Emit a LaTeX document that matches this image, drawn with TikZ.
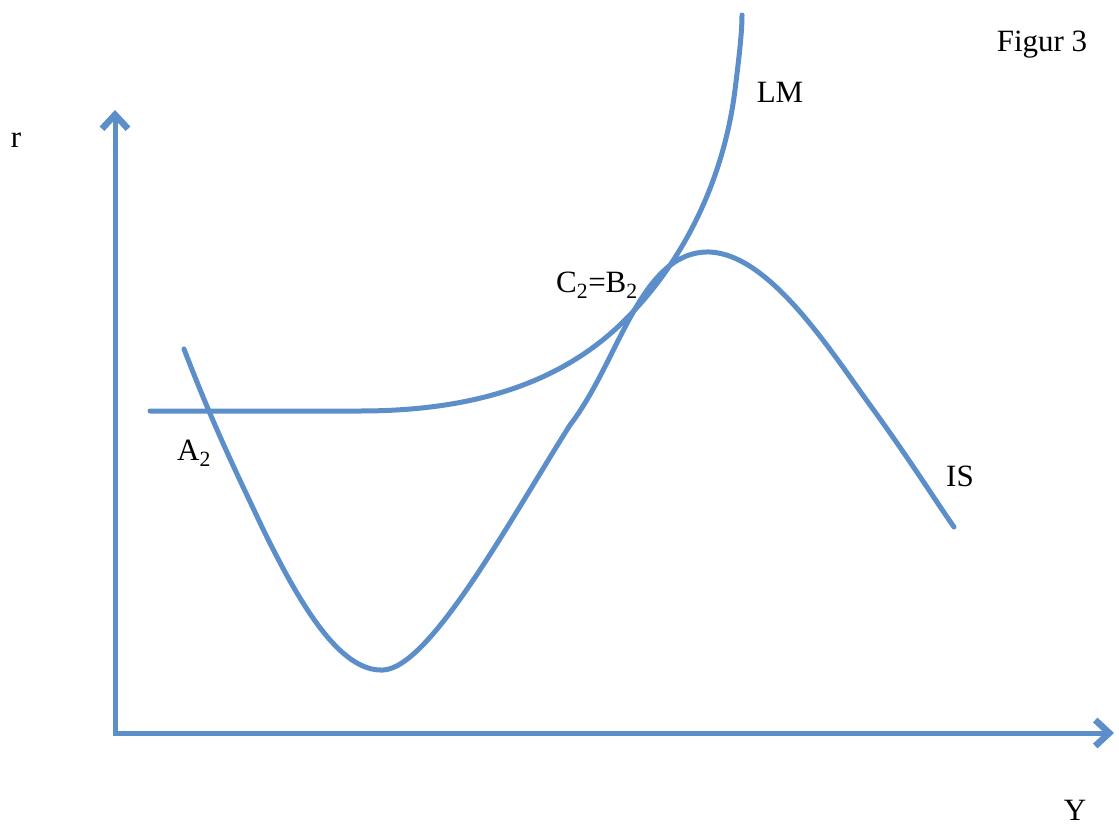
\documentclass[tikz,border=0pt]{standalone}
\usepackage{fontspec}
\setmainfont{Liberation Serif}
\usetikzlibrary{arrows.meta}
\definecolor{curveblue}{RGB}{92,142,202}
\tikzset{
  curve/.style={draw=curveblue, line width=5pt, line cap=round, line join=round},
  axis/.style={curve, line cap=butt, -{Straight Barb[length=14pt,width=26pt,line width=6.5pt]}},
  lbl/.style={font=\fontsize{31}{35}\selectfont, inner sep=0pt}
}
\begin{document}
\begin{tikzpicture}[x=1pt,y=-1pt]
\useasboundingbox (0,0) rectangle (1119,835);
\coordinate (ybot) at (115,736);
\coordinate (ytop) at (115,110);
\coordinate (xbeg) at (113,733);
\coordinate (xend) at (1114,733);
\draw[axis] (ybot) -- (ytop);
\draw[axis] (xbeg) -- (xend);
% LM curve
\draw[curve] (150,411) -- (360,411)
  .. controls (470,411) and (560,385) .. (625,320)
  .. controls (690,255) and (725,170) .. (735,90)
  .. controls (740,50) and (742,30) .. (742,15);
% IS curve
\draw[curve] (184,349)
  .. controls (215,430) and (240,480) .. (262,527)
  .. controls (300,605) and (340,672) .. (383,670)
  .. controls (430,668) and (510,520) .. (570,425)
  .. controls (620,360) and (640,250) .. (710,252)
  .. controls (770,255) and (830,350) .. (870,405)
  .. controls (910,460) and (935,500) .. (954,527);
% labels
\node[lbl] (r) at (16,140) {r};
\node[lbl] (LM) at (780,92) {LM};
\node[lbl] (CB) at (597,285) {C\textsubscript{2}=B\textsubscript{2}};
\node[lbl] (A) at (194,453) {A\textsubscript{2}};
\node[lbl] (IS) at (960,476) {IS};
\node[lbl] (fig) at (1042,45) {Figur 3};
\node[lbl] (Y) at (1075,810) {Y};
\end{tikzpicture}
\end{document}
